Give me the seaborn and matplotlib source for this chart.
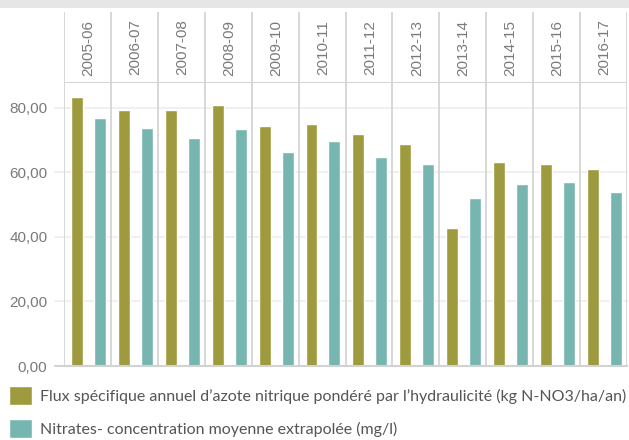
import matplotlib
matplotlib.use("Agg")
import matplotlib.pyplot as plt
import seaborn as sns
import pandas as pd
from matplotlib.patches import Rectangle

years = ["2005-06", "2006-07", "2007-08", "2008-09", "2009-10", "2010-11",
         "2011-12", "2012-13", "2013-14", "2014-15", "2015-16", "2016-17"]
flux = [83.3, 79.2, 79.2, 80.8, 74.4, 74.9, 71.8, 68.7, 42.6, 63.1, 62.5, 60.9]
nitrates = [76.7, 73.6, 70.5, 73.3, 66.2, 69.6, 64.7, 62.5, 51.9, 56.3, 56.9, 53.8]
series = ["Flux spécifique annuel d\u2019azote nitrique pondéré par l\u2019hydraulicité (kg N-NO3/ha/an)",
          "Nitrates- concentration moyenne extrapolée (mg/l)"]
yticks = [0, 20, 40, 60, 80]
colors = ["#9e9a3e", "#77b6b0"]

df = pd.DataFrame({
    "year": years * 2,
    "value": flux + nitrates,
    "serie": [series[0]] * len(years) + [series[1]] * len(years),
})

sns.set_theme(style="white")
plt.rcParams["font.family"] = ["Liberation Sans", "DejaVu Sans"]

W, H = 629, 440
fig = plt.figure(figsize=(W / 100, H / 100), dpi=100)

def fx(px):
    return px / W

def fy(py):
    return 1 - py / H

left, right = 64, 627
top_plot, bottom_plot = 83, 366
header_top = 12

# top gray band
fig.patches.append(Rectangle((0, fy(8.5)), 1, 8.5 / H, transform=fig.transFigure,
                             facecolor="#e6e6e6", edgecolor="none"))

ax = fig.add_axes([fx(left), fy(bottom_plot), fx(right - left), (bottom_plot - top_plot) / H])
hx = fig.add_axes([fx(left), fy(top_plot), fx(right - left), (top_plot - header_top) / H])

sns.barplot(data=df, x="year", y="value", hue="serie", palette=colors,
            width=0.98, gap=0.48, saturation=1, errorbar=None, ax=ax, zorder=3)

off = 0.02
ax.set_xlim(-0.5 - off, len(years) - 0.5 - off)
ax.set_ylim(0, 87.6)
ax.set_yticks(yticks)
ax.set_yticklabels([f"{v:.2f}".replace(".", ",") for v in yticks])
ax.tick_params(axis="y", length=0, pad=12, labelsize=11, labelcolor="#7a7a7a")
ax.set_xticks([])
ax.set_xlabel("")
ax.set_ylabel("")
for s in ax.spines.values():
    s.set_visible(False)

# gridlines extending left of the axes
ext = (left - 55) / (right - left)
for v in yticks[1:]:
    ax.axhline(v, xmin=-ext, xmax=1, color="#efefef", lw=1.3, clip_on=False, zorder=1)
ax.axhline(0, xmin=-ext, xmax=1, color="#d2d2d2", lw=1.5, clip_on=False, zorder=4)

for k in range(len(years) + 1):
    ax.axvline(k - 0.5 - off, color="#d4d4d4", lw=1.3, zorder=2)

# header
hx.set_xlim(ax.get_xlim())
hx.set_ylim(0, 1)
hx.axis("off")
for k in range(len(years) + 1):
    hx.axvline(k - 0.5 - off, color="#d4d4d4", lw=1.3)
hx.axhline(0, color="#d4d4d4", lw=1.5)
for k, y in enumerate(years):
    hx.text(k, 0.5, y, rotation=90, ha="center", va="center",
            fontsize=11, color="#7a7a7a")

# legend
handles, labels = ax.get_legend_handles_labels()
ax.legend_.remove()
fig.legend(handles, labels, loc="upper left", bbox_to_anchor=(fx(9), fy(386)),
           frameon=False, prop={"family": "Lato", "size": 11.5},
           handlelength=1.44, handleheight=1.44, handletextpad=0.5,
           labelspacing=0.9, borderpad=0, borderaxespad=0, labelcolor="#555555")

fig.savefig("out.png", dpi=100)
